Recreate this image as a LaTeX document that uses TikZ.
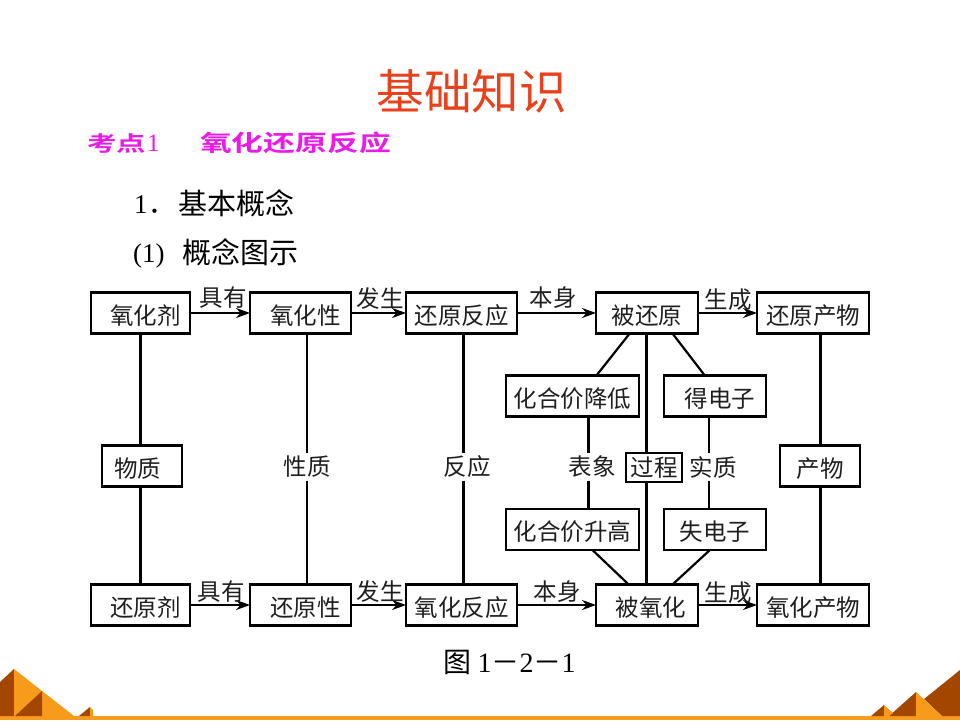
\documentclass[tikz,border=0pt]{standalone}
\usepackage{fontspec}
\usepackage{graphicx}
\setmainfont{Liberation Serif}
\newfontfamily\cjk{Noto Sans CJK SC}
\newfontfamily\cjkbold{Noto Sans CJK SC Bold}
\newfontfamily\lat{Liberation Serif}
\usetikzlibrary{calc,arrows.meta}
\definecolor{pyrlight}{HTML}{F89A1A}
\definecolor{pyrdark}{HTML}{A34700}
\definecolor{titlered}{HTML}{E8421C}
\definecolor{headmagenta}{HTML}{EA1BE6}
\tikzset{
  txt/.style={inner sep=0pt,outer sep=0pt,font=\cjk\fontsize{23.5}{23.5}\selectfont,text=black!88},
  conceptbox/.style={txt,draw=black,line width=2.3pt,fill=white,minimum height=41pt,text height=22pt,text depth=0pt},
  wide/.style={conceptbox,minimum width=#1},
  gaplabel/.style={txt,fill=white,inner sep=3pt},
  link/.style={line width=2.2pt,draw=black},
  flow/.style={line width=1.8pt,draw=black,-{Stealth[length=14pt,width=10pt]}},
  flowlabel/.style={txt,fill=none},
}
\begin{document}
\begin{tikzpicture}[x=1pt,y=-1pt]
\useasboundingbox (0,0) rectangle (960,720);
\fill[white] (0,0) rectangle (960,720);

% footer ornament
\fill[pyrlight] (0,716) rectangle (960,720);
\fill[pyrdark] (0,682) -- (14,669) -- (14,716) -- (0,716) -- cycle;
\fill[pyrlight] (14,669) -- (74,716) -- (14,716) -- cycle;
\fill[pyrdark] (15,716) -- (42,691) -- (42,716) -- cycle;
\fill[pyrdark] (79,716) -- (90,707) -- (90,716) -- cycle;
\fill[pyrlight] (90,707) -- (93,710) -- (93,716) -- (90,716) -- cycle;
\fill[pyrdark] (924,699) -- (960,670) -- (960,716) -- (942,716) -- cycle;
\fill[pyrdark] (889,716) -- (916,692) -- (916,716) -- cycle;
\fill[pyrlight] (916,692) -- (942,716) -- (916,716) -- cycle;
\fill[pyrdark] (871,716) -- (884,705) -- (884,716) -- cycle;
\fill[pyrlight] (884,705) -- (893,713) -- (889,716) -- (884,716) -- cycle;

% headings
\node[inner sep=0pt,text=titlered,font=\cjk\fontsize{47.5}{48}\selectfont] (title) at (471.5,91) {基础知识};
\node[inner sep=0pt,anchor=west,text=headmagenta] (topic) at (87,143)
  {\scalebox{1.4}[1]{\cjkbold\fontsize{21}{21}\selectfont 考点}\hspace{1pt}{\lat\fontsize{25}{25}\selectfont 1}};
\node[inner sep=0pt,anchor=west,text=headmagenta] (topicname) at (200,143)
  {\scalebox{1.4}[1]{\cjkbold\fontsize{22.7}{23}\selectfont 氧化还原反应}};
\node[inner sep=0pt,anchor=base west,font=\lat\fontsize{27}{27}\selectfont] (num) at (134,213) {1};
\node[inner sep=0pt,anchor=base west,font=\cjk\fontsize{27}{27}\selectfont] (dot) at (148,213) {．};
\node[inner sep=0pt,anchor=west,font=\cjk\fontsize{29}{29}\selectfont] (sec) at (178,203) {基本概念};
\node[inner sep=0pt,anchor=base west,font=\lat\fontsize{27}{27}\selectfont] (sub) at (133,262) {(1)};
\node[inner sep=0pt,anchor=west,font=\cjk\fontsize{29}{29}\selectfont] (subt) at (182,252) {概念图示};

% top row
\node[wide=99pt]  (oxd)  at (140.5,313) {\hspace*{10pt}氧化剂};
\node[wide=101pt] (oxp)  at (300.5,313) {\hspace*{10pt}氧化性};
\node[wide=111pt] (redr) at (461.5,313) {还原反应};
\node[wide=102pt] (bred) at (647,313) {被还原};
\node[wide=112pt] (redp) at (813,313) {还原产物};
% bottom row
\node[wide=99pt]  (red)  at (140.5,605) {\hspace*{10pt}还原剂};
\node[wide=101pt] (rdp)  at (300.5,605) {\hspace*{10pt}还原性};
\node[wide=111pt] (oxr)  at (461.5,605) {氧化反应};
\node[wide=102pt] (box)  at (647,605) {\hspace*{8pt}被氧化};
\node[wide=112pt] (oxpr) at (813,605) {氧化产物};
% middle column boxes
\node[wide=133pt] (down) at (572.5,396) {化合价降低};
\node[wide=102pt] (gain) at (715,396) {\hspace*{10pt}得电子};
\node[wide=133pt] (up)   at (572.5,529.5) {化合价升高};
\node[wide=102pt] (lose) at (715,529.5) {失电子};

% labels on the vertical links
\node[wide=80pt] (matter)  at (142,466) {物质\hspace*{9pt}};
\node[wide=80pt] (product) at (820,466) {产物};
\node[gaplabel] (prop)  at (307,467) {性质};
\node[gaplabel] (react) at (467,467) {反应};
\node[gaplabel] (look)  at (592,467) {表象};
\node[gaplabel] (esse)  at (713,467) {实质};

% vertical links
\draw[link] (oxd.south -| 140.5,0) -- (matter.north -| 140.5,0);
\draw[link] (matter.south -| 140.5,0) -- (red.north -| 140.5,0);
\draw[link] (oxp.south -| 307,0) -- (prop.north -| 307,0);
\draw[link] (prop.south -| 307,0) -- (rdp.north -| 307,0);
\draw[link] (redr.south -| 463.5,0) -- (react.north -| 463.5,0);
\draw[link] (react.south -| 463.5,0) -- (oxr.north -| 463.5,0);
\draw[link] (redp.south -| 820.5,0) -- (product.north -| 820.5,0);
\draw[link] (product.south -| 820.5,0) -- (oxpr.north -| 820.5,0);
\draw[link] (bred.south -| 646.5,0) -- (box.north -| 646.5,0);
\draw[link] (down.south -| 588.5,0) -- (look.north -| 588.5,0);
\draw[link] (look.south -| 588.5,0) -- (up.north -| 588.5,0);
\draw[link] (gain.south -| 709,0) -- (esse.north -| 709,0);
\draw[link] (esse.south -| 709,0) -- (lose.north -| 709,0);
\node[txt,draw=black,line width=2.1pt,fill=white,minimum width=56pt,minimum height=29pt] (proc) at (654,467.5) {过程};

% slanted links around the middle column
\draw[link] ($(bred.south west)!0.33!(bred.south east)$) -- ($(down.north west)!0.68!(down.north east)$);
\draw[link] ($(bred.south west)!0.75!(bred.south east)$) -- ($(gain.north west)!0.4!(gain.north east)$);
\draw[link] ($(up.south west)!0.65!(up.south east)$) -- ($(box.north west)!0.32!(box.north east)$);
\draw[link] ($(lose.south west)!0.45!(lose.south east)$) -- ($(box.north west)!0.75!(box.north east)$);

% arrows with their words
\draw[flow] (oxd.east |- 0,313) -- (oxp.west |- 0,313);
\draw[flow] (oxp.east |- 0,313) -- (redr.west |- 0,313);
\draw[flow] (redr.east |- 0,313) -- (bred.west |- 0,313);
\draw[flow] (bred.east |- 0,313) -- (redp.west |- 0,313);
\draw[flow] (red.east |- 0,605) -- (rdp.west |- 0,605);
\draw[flow] (rdp.east |- 0,605) -- (oxr.west |- 0,605);
\draw[flow] (oxr.east |- 0,605) -- (box.west |- 0,605);
\draw[flow] (box.east |- 0,605) -- (oxpr.west |- 0,605);
\node[flowlabel] (a1) at (223,298) {具有};
\node[flowlabel] (a2) at (380,299) {发生};
\node[flowlabel] (a3) at (553,298) {本身};
\node[flowlabel] (a4) at (728,300) {生成};
\node[flowlabel] (b1) at (221,592) {具有};
\node[flowlabel] (b2) at (380,592) {发生};
\node[flowlabel] (b3) at (557,592) {本身};
\node[flowlabel] (b4) at (728,593) {生成};

% caption
\node[inner sep=0pt,font=\cjk\fontsize{28}{28}\selectfont] (cap) at (509.5,662) {图 {\lat 1}－{\lat 2}－{\lat 1}};
\end{tikzpicture}
\end{document}
